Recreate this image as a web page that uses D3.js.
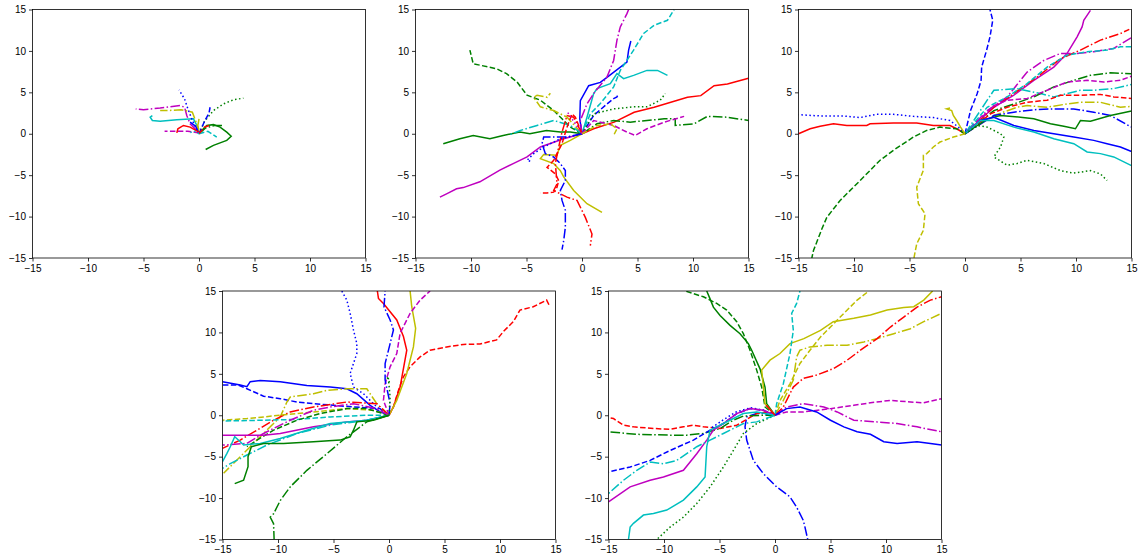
<!DOCTYPE html>
<html>
<head>
<meta charset="utf-8">
<script src="https://cdn.jsdelivr.net/npm/d3@7"></script>
<style>
  body { margin: 0; background: #fff; }
  svg { display: block; font-family: "DejaVu Sans", sans-serif; }
  .tick text { font-size: 10px; fill: #000; }
</style>
</head>
<body>
<div id="chart"></div>
<script>
// tick values shared by all panels
const ticks = [-15, -10, -5, 0, 5, 10, 15];

// each track: matplotlib-style format code + points [x, y]
const panel1 = [
  ["g:", [[0,0],[0.5,1.5],[1.3,2.8],[2.2,3.6],[3.1,4.1],[4,4.3]]],
  ["g-", [[0.1,0.2],[0.7,1.0],[1.3,1.1],[1.9,0.8],[2.5,0.2],[2.9,-0.3],[2.5,-0.8],[1.9,-1.1],[1.3,-1.4],[0.6,-1.9]]],
  ["g-.", [[0,0],[0.6,0.7],[1.4,1.0],[2.1,1.0]]],
  ["c-", [[0,0.5],[-0.5,1.8],[-2,1.7],[-3.5,1.5],[-4.2,1.6],[-4.4,2.0],[-4.2,2.2]]],
  ["c--", [[0,0],[0.8,0.3],[1.6,-0.4]]],
  ["m-.", [[-0.2,0.4],[-0.8,1.2],[-1.1,2.2],[-1.3,3.2],[-1.7,3.4],[-3.5,3.1],[-5.0,2.9],[-5.7,3.0]]],
  ["m--", [[0,0.1],[-1,0.3],[-2.3,0.3],[-3.1,0.3]]],
  ["y-.", [[0,0],[-0.2,1.2],[-0.6,2.6],[-1.6,2.9],[-2.9,2.8],[-3.5,2.8]]],
  ["y-", [[0,0],[-0.1,1.0],[0,1.8]]],
  ["b--", [[0,0],[0.5,1.5],[0.9,2.5],[1.0,3.2]]],
  ["b:", [[0,0],[-0.6,1.6],[-1.0,3.0],[-1.3,4.2],[-1.8,5.3]]],
  ["b-", [[0,0],[-0.3,0.9],[-0.8,1.4]]],
  ["r-", [[0,0.2],[-0.8,0.8],[-1.4,1.0],[-1.9,0.6],[-2.0,0.1]]],
  ["r--", [[0,0],[0.5,0.8],[1.1,1.1]]],
  ["c:", [[0,0],[-0.4,0.3],[-0.9,0.1]]]
];

const panel2 = [
  ["r-", [[0,0],[1.05,0.6],[2.9,1.4],[4.7,2.6],[6.5,3.2],[8,3.8],[9.5,4.4],[10.7,4.6],[11.9,5.8],[13.1,6.0],[15,6.7]]],
  ["g-", [[0,0],[-1.05,0.2],[-1.95,0.2],[-3.2,0.4],[-4.7,0],[-5.6,0.2],[-7.1,-0.2],[-8.3,-0.6],[-9.8,-0.2],[-11,-0.6],[-12.5,-1.2]]],
  ["m-", [[0,0],[-1.65,-0.6],[-3.75,-1.6],[-4.95,-2.8],[-6.2,-3.6],[-7.4,-4.4],[-9.2,-5.8],[-10.7,-6.5],[-11.3,-6.65],[-12.2,-7.25],[-12.8,-7.65]]],
  ["b-", [[0,0],[-0.2,1.8],[-0.15,4.0],[0.6,5.8],[1.65,6.2],[2.25,6.8],[4.05,8.65],[4.2,10.1],[4.4,11.2]]],
  ["c-", [[0,0],[0.45,2.0],[1.05,4.85],[1.35,5.45],[2.55,6.05],[3.15,7.25],[3.75,6.65],[4.65,7.05],[5.85,7.65],[6.8,7.65],[7.7,7.05]]],
  ["c--", [[0,0],[0.75,2.4],[1.65,3.65],[2.85,5.65],[3.45,7.65],[4.65,10.1],[5.55,12.1],[6.5,13.1],[7.7,13.7],[8.3,15]]],
  ["m-.", [[0,0],[-0.15,1.6],[0.45,3.6],[1.05,4.85],[2.25,6.85],[2.85,8.85],[3.15,11.3],[3.45,12.9],[4.05,14.5],[4.2,15]]],
  ["b--", [[0,0],[1.05,2.2],[2.25,3.6],[2.85,4.25],[3.15,4.45],[3.3,4.85]]],
  ["g:", [[0,0],[1.05,2.4],[2.85,3.0],[4.65,3.25],[5.85,3.25],[7.05,4.05],[7.5,4.85]]],
  ["g-.", [[0,0],[1.35,1.2],[2.85,1.6],[4.35,1.4],[5.85,1.6],[7.4,1.8],[8.4,1.8],[8.4,1.0],[10.1,1.2],[11.3,2.1],[13.1,2.0],[15,1.6]]],
  ["m--", [[0,0],[1.05,1.6],[2.85,1.0],[4.05,0.2],[4.8,-0.2],[5.85,0.6],[7.4,1.4],[9.2,2.1]]],
  ["g--", [[0,0],[-1.05,0.8],[-1.8,1.8],[-2.55,2.8],[-3.75,4.05],[-4.95,4.65],[-5.85,6.25],[-6.8,7.25],[-7.7,7.85],[-9.8,8.45],[-10.1,10.1]]],
  ["y-.", [[0,0],[-1.35,2.0],[-2.55,2.8],[-3.75,3.25],[-4.35,4.4],[-4.05,4.65],[-3.15,4.4],[-2.85,4.9]]],
  ["c-.", [[0,0],[-1.05,1.0],[-2.55,1.6],[-4.05,1.0],[-5.55,0.4],[-6.5,-0.1]]],
  ["y-", [[0,0],[-1.05,-0.8],[-1.95,-1.4],[-2.25,-2.6],[-3.45,-2.5],[-3.75,-3.0],[-2.55,-3.6],[-1.95,-4.45],[-1.65,-5.2],[-0.75,-6.85],[0.45,-8.45],[1.8,-9.5]]],
  ["b-.", [[0,0],[-1.35,-0.4],[-3.45,-0.4],[-3.6,-1.2],[-3.3,-2.4],[-2.55,-2.8],[-1.95,-3.6],[-1.5,-4.45],[-1.5,-5.65],[-1.95,-6.85],[-1.8,-8.05],[-1.5,-9.25],[-1.5,-11.3],[-1.65,-12.9],[-1.8,-14.0]]],
  ["r-.", [[0,0],[-0.75,2.0],[-1.35,2.2],[-1.8,0.2],[-2.1,-1.6],[-2.4,-3.6],[-2.25,-6.05],[-2.55,-6.85],[-1.35,-7.65],[-0.45,-8.05],[0.3,-10.1],[0.9,-12.1],[0.75,-13.5]]],
  ["r--", [[0,0],[-0.6,2.0],[-0.9,2.4],[-1.35,0.8],[-1.8,-1.2],[-2.55,-3.2],[-3.15,-4.05],[-2.4,-4.85],[-2.1,-5.65],[-2.25,-6.45],[-2.55,-7.05],[-3.15,-7.15],[-3.75,-7.15]]],
  ["b:", [[0,0],[-1.95,-0.6],[-3.45,-1.6],[-4.35,-2.4],[-4.95,-3.2],[-4.5,-3.4]]],
  ["y--", [[0,0],[1.35,1.0],[2.55,1.2],[3.15,0.6],[2.85,-0.2]]],
  ["m:", [[0,0],[-0.6,1.2],[-1.4,2.8]]]
];

const panel3 = [
  ["b--", [[0,0],[0.5,2.8],[1.1,4.85],[1.45,6.45],[1.5,8.05],[1.95,10.1],[2.25,11.7],[2.5,13.7],[2.25,15]]],
  ["m-", [[0,0],[2.6,3.2],[4.4,4.65],[6.2,6.45],[8.0,8.05],[9.2,9.7],[10.1,11.7],[10.55,12.9],[10.7,13.7],[11.3,14.9]]],
  ["r-.", [[0,0],[2.6,3.2],[4.4,4.85],[6.5,6.85],[8.6,9.05],[10.4,10.1],[12.2,11.3],[14.0,12.1],[14.8,12.6]]],
  ["m-.", [[0,0],[2.0,2.8],[3.8,4.45],[5.6,7.45],[7.1,8.85],[8.6,9.7],[10.1,9.7],[11.6,9.9],[13.4,10.3],[15,11.6]]],
  ["c--", [[0,0],[2.0,3.2],[3.8,4.45],[5.6,6.05],[7.4,8.05],[9.2,9.5],[11,9.9],[12.8,10.1],[14,10.5],[15,10.5]]],
  ["c-.", [[0,0],[2.0,4.05],[2.6,5.25],[4.7,5.45],[6.8,4.85],[8.0,4.45],[10.4,5.25],[11.6,5.25],[13.4,5.45],[15,5.95]]],
  ["g-.", [[0,0],[2.6,2.8],[4.4,3.6],[6.2,4.45],[8.0,5.65],[9.8,6.45],[11.3,7.05],[13.1,7.35],[15,7.25]]],
  ["m--", [[0,0],[2.6,3.4],[3.8,4.05],[5.6,4.25],[7.4,5.25],[9.2,6.25],[11,6.45],[12.5,6.25],[14,6.45],[15,6.95]]],
  ["r--", [[0,0],[2.3,2.4],[3.8,3.2],[5.6,3.8],[7.4,4.05],[8.6,4.65],[10.4,4.65],[12.2,4.75],[13.4,4.45],[15,4.25]]],
  ["y-.", [[0,0],[2.6,2.2],[4.7,3.2],[5.6,3.4],[7.4,3.2],[9.2,3.6],[10.4,3.8],[12.2,3.8],[13.4,3.4],[14,3.2],[15,3.3]]],
  ["b-.", [[0,0],[2.6,2.2],[4.4,2.6],[6.2,2.9],[8,3.0],[9.8,3.0],[11.6,2.6],[13.1,2.2],[15,0.8]]],
  ["g-", [[0,0],[2.0,1.8],[3.2,2.2],[5.0,2.0],[6.2,1.8],[7.7,1.2],[8.9,0.9],[9.95,0.6],[10.4,1.6],[11.3,1.5],[13.1,2.2],[15,2.75]]],
  ["b-", [[0,0],[1.4,1.6],[2.6,2.0],[4.4,1.0],[6.2,0.4],[8,0],[9.8,-0.4],[11.6,-0.8],[12.8,-1.2],[14,-1.6],[15,-2.15]]],
  ["c-", [[0,0],[1.4,1.6],[2.6,1.6],[4.4,0.8],[6.2,0.2],[8,-0.6],[9.8,-1.2],[11,-2.2],[12.2,-2.4],[13.4,-2.8],[15,-3.85]]],
  ["g:", [[0,0],[1.1,1.0],[2.0,0.8],[3.2,0],[3.5,-0.4],[3.2,-1.6],[2.6,-2.8],[3.8,-3.8],[4.7,-3.6],[5.6,-3.2],[7.1,-3.6],[8.6,-4.45],[9.8,-4.75],[11.3,-4.45],[12.2,-4.85],[12.8,-5.65]]],
  ["r-", [[0,0],[-0.75,0.6],[-1.35,1.0],[-2.85,1.0],[-4.35,1.3],[-6.45,1.3],[-8.55,1.2],[-8.85,1.0],[-10.65,1.0],[-11.85,1.2],[-13.05,0.9],[-13.95,0.6],[-15,0]]],
  ["b:", [[0,0],[-0.6,0.8],[-1.35,1.6],[-2.85,1.95],[-4.65,2.1],[-6.45,2.35],[-7.95,2.35],[-9.45,1.95],[-10.95,2.15],[-13.05,2.15],[-15,2.3]]],
  ["g--", [[0,0],[-0.75,0.6],[-2.25,0.8],[-3.45,0.4],[-4.65,-0.4],[-6.45,-2.0],[-7.65,-3.2],[-9.45,-5.65],[-11.25,-8.05],[-12.45,-10.1],[-12.9,-11.5],[-13.65,-14.1],[-13.8,-15]]],
  ["y--", [[0,0],[-1.05,-0.4],[-2.25,-1.0],[-2.85,-1.6],[-3.45,-2.4],[-3.75,-2.6],[-3.75,-4.4],[-4.35,-6.45],[-4.2,-8.45],[-3.6,-9.65],[-3.75,-11.65],[-4.35,-13.3],[-4.6,-15]]],
  ["y-", [[0,0],[-0.4,0.8],[-0.75,1.6],[-1.05,2.2],[-1.2,2.8],[-1.65,3.0],[-1.35,3.1]]]
];

const panel4 = [
  ["r--", [[0,0],[0.4,1.0],[0.85,3.0],[1.3,4.65],[1.9,5.85],[2.8,7.05],[3.7,7.85],[5.2,8.25],[6.7,8.55],[8.2,8.6],[9.7,9.1],[10.3,10.1],[11.2,11.3],[11.8,12.7],[13,13.1],[14.2,13.9],[14.5,13.1]]],
  ["r-", [[0,0],[0.4,1.0],[1.0,3.4],[1.6,7.85],[1.3,9.5],[0.7,11.5],[-0.5,13.5],[-0.95,14.1],[-1.05,15]]],
  ["y-", [[0,0],[0.7,1.8],[1.6,5.05],[2.2,8.25],[2.4,10.5],[2.05,13.1],[1.9,15]]],
  ["m--", [[0,0],[-0.5,1.8],[-0.35,3.8],[0.1,5.85],[0.7,7.45],[1.0,9.9],[1.9,12.3],[2.8,13.9],[3.7,15]]],
  ["b-.", [[0,0],[0.1,1.4],[-0.35,4.25],[-0.35,6.25],[0.1,8.65],[0.4,10.3],[0.1,11.5],[-0.45,13.1],[-0.35,15]]],
  ["b:", [[0,0],[-1.1,1.0],[-2.3,2.6],[-3.2,3.4],[-3.5,5.05],[-2.9,7.45],[-2.9,8.65],[-3.2,10.3],[-3.5,12.3],[-3.8,13.9],[-4.25,15]]],
  ["g:", [[0,0],[0.1,2.2],[-0.05,4.4],[-0.2,4.65],[0.1,3.8]]],
  ["b-", [[0,0],[-0.8,0.4],[-1.7,1.2],[-2.9,2.6],[-3.8,3.2],[-5.3,3.4],[-7.4,3.6],[-9.8,4.05],[-11.6,4.2],[-12.5,4.05],[-12.8,3.45],[-13.4,3.65],[-15,4.05]]],
  ["b--", [[0,0],[-0.8,0.8],[-3.2,1.0],[-6.8,1.4],[-8.3,1.6],[-9.8,2.0],[-11.3,2.3],[-12.8,3.2],[-13.6,3.65],[-15,3.65]]],
  ["y-.", [[0,0],[-1.1,1.4],[-1.7,2.6],[-2.0,3.2],[-3.8,3.2],[-5.6,3.0],[-6.8,2.6],[-8.9,2.2],[-9.2,1.6],[-9.8,-0.2],[-11.3,-2.2],[-12.2,-3.4],[-13.4,-5.0],[-14.3,-6.2],[-14.9,-7.0]]],
  ["r-.", [[0,0],[-1.1,1.4],[-3.8,1.6],[-6.8,1.0],[-8.9,0.4],[-10.4,-0.6],[-11.9,-1.8],[-13.4,-3.0],[-15,-4.0]]],
  ["y--", [[0,0],[-1.4,0.6],[-3.8,0.8],[-6.8,0.4],[-9.8,0],[-12.8,-0.4],[-15,-0.6]]],
  ["c--", [[0,0],[-2,0],[-5.3,-0.2],[-8.3,-0.5],[-11.3,-0.6],[-15,-0.7]]],
  ["g--", [[0,0],[-2,0.8],[-3.8,0.8],[-6.2,0.2],[-8.3,-0.6],[-10.4,-1.8],[-11.9,-3.0],[-12.8,-3.8]]],
  ["m-.", [[0,0],[-1.1,0.8],[-3.2,1.4],[-5.3,1.0],[-6.8,0.6],[-8.9,-0.6],[-11.3,-2.2],[-12.8,-3.4],[-15,-3.6]]],
  ["m-", [[0,0],[-2,-0.6],[-3.8,-0.8],[-6.8,-1.4],[-9.8,-2.2],[-11.3,-2.4],[-15,-2.4]]],
  ["c-", [[0,0],[-2,-0.6],[-5.3,-1.0],[-7.4,-1.8],[-9.8,-2.8],[-11.6,-3.4],[-13.1,-3.6],[-13.4,-3.2],[-13.9,-2.6],[-14.3,-3.8],[-14.6,-4.6],[-15,-5.6]]],
  ["c-.", [[0,0],[-2,-0.6],[-5.3,-1.2],[-8.3,-2.2],[-11,-3.6],[-12.8,-4.8],[-14.3,-5.85],[-15,-6.4]]],
  ["g-", [[0,0],[-1.4,-0.6],[-2.9,-0.8],[-3.2,-1.8],[-3.5,-2.6],[-4.4,-3.0],[-6.8,-3.2],[-9.5,-3.4],[-11.3,-3.4],[-12.4,-3.8],[-12.7,-5.0],[-12.7,-6.2],[-13.1,-7.85],[-13.9,-8.25]]],
  ["g-.", [[0,0],[-2,-0.8],[-3.8,-2.6],[-5.6,-4.65],[-7.4,-6.65],[-8.9,-8.65],[-9.8,-10.3],[-10.4,-11.9],[-10.7,-12.3],[-10.4,-13.1],[-10.35,-15]]]
];

const panel5 = [
  ["g-", [[0,0],[-0.75,1.4],[-0.9,3.4],[-1.35,5.6],[-2.1,7.85],[-2.4,8.65],[-3.15,9.85],[-4.05,10.85],[-4.95,12.05],[-5.55,13.05],[-5.85,14.05],[-6.15,15]]],
  ["g--", [[0,0],[-0.9,1.0],[-1.2,3.4],[-1.65,5.45],[-2.25,7.85],[-2.85,9.85],[-3.45,11.3],[-4.35,12.7],[-5.25,13.5],[-6.45,14.3],[-8.1,15]]],
  ["y-", [[0,0],[-0.9,1.4],[-1.2,5.45],[-0.45,6.65],[0.45,7.45],[1.35,8.65],[2.6,9.25],[4.1,10.25],[5.25,11.3],[7.1,11.7],[8.6,12.1],[10.1,12.7],[11.6,13.0],[12.5,13.1],[13.4,13.9],[14.2,15]]],
  ["y--", [[0,0],[0.45,1.8],[1.35,3.8],[2.25,6.25],[3.15,7.85],[4.1,9.45],[5.0,10.65],[6.2,12.3],[7.4,13.9],[8.45,15]]],
  ["y-.", [[0,0],[0.75,1.8],[1.65,4.25],[1.95,7.05],[2.25,7.85],[3.15,8.25],[4.7,8.45],[6.5,8.45],[8,8.85],[9.2,9.25],[10.7,9.85],[12.2,10.45],[13.4,11.3],[15,12.3]]],
  ["r-.", [[0,0],[0.75,1.0],[1.65,3.4],[2.55,4.45],[3.75,4.85],[5.3,5.65],[6.5,6.65],[7.7,7.85],[9.2,9.25],[10.4,10.65],[11.6,11.85],[12.8,13.05],[14.0,13.9],[15,14.3]]],
  ["c--", [[0,0],[0.15,1.4],[0.75,3.8],[1.35,7.45],[1.65,10.25],[1.5,12.3],[1.95,13.5],[2.25,15]]],
  ["m--", [[0,0],[1.05,0.4],[2.55,0.4],[5,0.8],[7.1,1.2],[8.6,1.5],[10.4,1.8],[12.2,1.6],[13.4,1.5],[15,2.0]]],
  ["m-.", [[0,0],[1.05,1.0],[2.55,1.4],[4.4,1.0],[5.6,0.4],[7.1,-0.6],[9.2,-0.8],[11,-1.0],[12.8,-1.4],[15,-2.0]]],
  ["b-", [[0,0],[1.05,0.8],[2.25,1.0],[3.75,0.4],[5,-0.6],[6.2,-1.4],[7.4,-2.0],[8.6,-2.3],[9.8,-3.2],[11,-3.4],[12.8,-3.2],[14,-3.4],[15,-3.6]]],
  ["b-.", [[0,0],[-1.05,0.2],[-1.65,0.2],[-2.55,-0.2],[-2.7,-1.4],[-2.55,-3.0],[-1.95,-5.45],[-1.05,-7.05],[0.15,-8.65],[1.35,-9.85],[1.95,-11.1],[2.55,-12.7],[2.7,-13.5],[2.95,-15]]],
  ["r--", [[0,0],[-0.75,0.4],[-1.65,0.2],[-3.45,-1.2],[-4.95,-1.6],[-6.45,-1.4],[-7.35,-1.2],[-8.25,-1.4],[-9.45,-1.7],[-10.95,-1.6],[-12.75,-1.4],[-13.65,-1.2],[-14.55,-0.4],[-15,-0.3]]],
  ["g-.", [[0,0],[-1.05,0],[-2.85,-0.1],[-3.75,-0.6],[-4.95,-1.6],[-6.45,-2.2],[-7.95,-2.4],[-9.45,-2.4],[-12.45,-2.3],[-15,-2.0]]],
  ["b--", [[0,0],[-1.05,0.6],[-2.25,0.8],[-3.45,0.2],[-4.65,-1.0],[-5.85,-1.8],[-7.35,-3.0],[-9.45,-4.25],[-11.25,-5.45],[-13.05,-6.25],[-15,-6.85]]],
  ["b:", [[0,0],[-1,0.6],[-2.2,0.9],[-3.5,0.4],[-4.6,-0.5],[-5.7,-1.5]]],
  ["g:", [[0,0],[-1.65,-1.0],[-2.85,-2.2],[-3.75,-4.25],[-4.65,-6.25],[-5.85,-8.65],[-7.05,-10.65],[-8.25,-12.3],[-9.45,-13.5],[-10.65,-15]]],
  ["m-", [[0,0],[-1.05,0.6],[-2.25,0.8],[-3.45,0.2],[-4.65,-1.0],[-5.55,-1.8],[-6.15,-3.0],[-7.05,-4.65],[-8.25,-6.65],[-10.05,-7.45],[-11.25,-7.85],[-13.05,-8.65],[-15,-10.45]]],
  ["c-", [[0,0],[-1.65,0.4],[-2.85,0.2],[-4.65,-1.0],[-5.85,-1.8],[-6.15,-3.8],[-6.3,-7.45],[-7.05,-8.65],[-8.25,-10.25],[-9.75,-11.45],[-10.95,-11.85],[-11.85,-12.05],[-12.75,-13.05],[-13.05,-13.5],[-13.2,-15]]],
  ["c-.", [[0,0],[-1.65,-0.8],[-2.85,-1.0],[-4.65,-2.2],[-5.85,-3.0],[-7.05,-3.8],[-8.85,-5.45],[-10.05,-5.85],[-11.25,-5.65],[-12.45,-6.65],[-13.65,-7.85],[-15,-9.45]]],
  ["r-", [[0,0],[-0.4,0.6],[-0.8,1.2]]]
];

const colors = { b: "#0000ff", g: "#008000", r: "#ff0000", c: "#00bfbf", m: "#bf00bf", y: "#bfbf00" };
const dashes = { "-": null, "--": "5.5,2.4", "-.": "9.6,2.4,1.5,2.4", ":": "1.5,2.5" };

const W = 1140, H = 560;
const pw = 333, ph = 248.5;
const panels = [
  { data: panel1, x: 32.5, y: 9.5 },
  { data: panel2, x: 415.5, y: 9.5 },
  { data: panel3, x: 798.5, y: 9.5 },
  { data: panel4, x: 222.5, y: 291 },
  { data: panel5, x: 608.5, y: 291 }
];

const svg = d3.select("#chart").append("svg")
  .attr("width", W)
  .attr("height", H);

const x = d3.scaleLinear().domain([-15, 15]).range([0, pw]);
const y = d3.scaleLinear().domain([-15, 15]).range([ph, 0]);
const line = d3.line().x(d => x(d[0])).y(d => y(d[1]));
const fmt = d => d < 0 ? "\u2212" + Math.abs(d) : String(d);

panels.forEach((p, i) => {
  const g = svg.append("g").attr("transform", `translate(${p.x},${p.y})`);

  g.append("clipPath").attr("id", "clip" + i)
    .append("rect").attr("width", pw).attr("height", ph);

  g.append("g").attr("clip-path", `url(#clip${i})`)
    .selectAll("path")
    .data(p.data)
    .enter()
    .append("path")
    .attr("d", d => line(d[1]))
    .attr("fill", "none")
    .attr("stroke", d => colors[d[0][0]])
    .attr("stroke-width", 1.5)
    .attr("stroke-dasharray", d => dashes[d[0].slice(1)]);

  const xAxis = g.append("g").attr("transform", `translate(0,${ph})`)
    .call(d3.axisBottom(x).tickValues(ticks).tickFormat(fmt).tickSizeOuter(0).tickSize(3.5).tickPadding(3));
  const yAxis = g.append("g")
    .call(d3.axisLeft(y).tickValues(ticks).tickFormat(fmt).tickSizeOuter(0).tickSize(3.5).tickPadding(3));
  [xAxis, yAxis].forEach(a => {
    a.select(".domain").remove();
    a.selectAll(".tick line").attr("stroke", "#000").attr("stroke-width", 0.8);
  });

  g.append("rect")
    .attr("width", pw).attr("height", ph)
    .attr("fill", "none")
    .attr("stroke", "#000")
    .attr("stroke-width", 0.8);
});
</script>
</body>
</html>
